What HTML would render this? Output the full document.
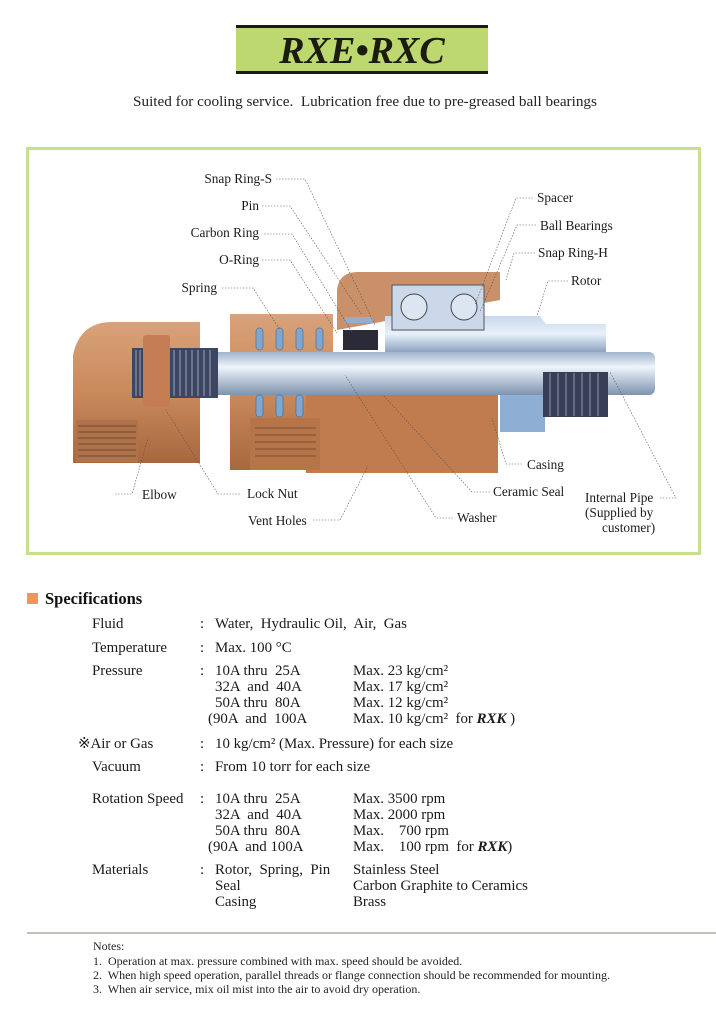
<!DOCTYPE html>
<html><head><meta charset="utf-8"><style>
html,body{margin:0;padding:0;background:#fff;}
svg{display:block;font-family:"Liberation Serif",serif;}
text{white-space:pre;}
</style></head><body>
<svg width="716" height="1023" viewBox="0 0 716 1023" xmlns="http://www.w3.org/2000/svg" xml:space="preserve">
<defs>
<linearGradient id="pipe" x1="0" y1="0" x2="0" y2="1"><stop offset="0" stop-color="#9fb4cc"/><stop offset="0.35" stop-color="#eef4fb"/><stop offset="1" stop-color="#7e93ad"/></linearGradient>
<linearGradient id="brass" x1="0" y1="0" x2="0" y2="1"><stop offset="0" stop-color="#d9a27a"/><stop offset="0.5" stop-color="#c98a5c"/><stop offset="1" stop-color="#a8673e"/></linearGradient>
<linearGradient id="rotor" x1="0" y1="0" x2="0" y2="1"><stop offset="0" stop-color="#c8d8ec"/><stop offset="0.5" stop-color="#e8f0fa"/><stop offset="1" stop-color="#8ea4c0"/></linearGradient>
</defs>
<rect width="716" height="1023" fill="#fff"/>
<rect x="236" y="26" width="252" height="47" fill="#bcd86e"/>
<rect x="236" y="25" width="252" height="3" fill="#1a1a1a"/>
<rect x="236" y="71" width="252" height="3" fill="#1a1a1a"/>
<text x="362" y="63" text-anchor="middle" font-size="38" font-weight="bold" font-style="italic" fill="#1b1b10">RXE•RXC</text>
<text x="365" y="106" text-anchor="middle" font-size="15.2" fill="#222">Suited for cooling service.  Lubrication free due to pre-greased ball bearings</text>
<rect x="27.5" y="148.5" width="672" height="405" fill="#fff" stroke="#c8e08c" stroke-width="3"/>
<path d="M73 355 Q80 322 112 322 L200 322 L200 463 L73 463 Z" fill="url(#brass)"/>
<rect x="76" y="420" width="62" height="42" fill="#b07248"/>
<g stroke="#6d4a32" stroke-width="1"><line x1="78" y1="426" x2="136" y2="426"/><line x1="78" y1="432" x2="136" y2="432"/><line x1="78" y1="438" x2="136" y2="438"/><line x1="78" y1="444" x2="136" y2="444"/><line x1="78" y1="450" x2="136" y2="450"/><line x1="78" y1="456" x2="136" y2="456"/></g>
<rect x="230" y="314" width="103" height="156" fill="url(#brass)"/>
<path d="M337 290 Q339 272 358 272 L500 272 L500 300 L337 330 Z" fill="#c99069"/>
<rect x="306" y="375" width="192" height="98" fill="#c07c4f"/>
<rect x="250" y="418" width="70" height="52" fill="#b67548"/>
<g stroke="#7a5036" stroke-width="1"><line x1="255" y1="428" x2="316" y2="428"/><line x1="255" y1="435" x2="316" y2="435"/><line x1="255" y1="442" x2="316" y2="442"/><line x1="255" y1="449" x2="316" y2="449"/><line x1="255" y1="456" x2="316" y2="456"/></g>
<path d="M385 316 L540 316 L546 324 L606 324 L606 352 L385 352 Z" fill="url(#rotor)"/>
<rect x="500" y="390" width="45" height="42" fill="#8eaed4"/>
<rect x="163" y="352" width="492" height="43" fill="url(#pipe)" rx="6"/>
<rect x="132" y="348" width="86" height="50" fill="#3d4660"/>
<rect x="143" y="335" width="27" height="72" fill="#c47c52" rx="3"/>
<g stroke="#8a94b0" stroke-width="1.2"><line x1="174" y1="350" x2="174" y2="396"/><line x1="180" y1="350" x2="180" y2="396"/><line x1="186" y1="350" x2="186" y2="396"/><line x1="192" y1="350" x2="192" y2="396"/><line x1="198" y1="350" x2="198" y2="396"/><line x1="204" y1="350" x2="204" y2="396"/><line x1="210" y1="350" x2="210" y2="396"/><line x1="136" y1="350" x2="136" y2="396"/><line x1="140" y1="350" x2="140" y2="396"/></g>
<rect x="543" y="372" width="65" height="45" fill="#383e55"/>
<g stroke="#7d88a8" stroke-width="1.2"><line x1="550" y1="373" x2="550" y2="416"/><line x1="558" y1="373" x2="558" y2="416"/><line x1="566" y1="373" x2="566" y2="416"/><line x1="574" y1="373" x2="574" y2="416"/><line x1="582" y1="373" x2="582" y2="416"/><line x1="590" y1="373" x2="590" y2="416"/><line x1="598" y1="373" x2="598" y2="416"/></g>
<rect x="343" y="330" width="35" height="20" fill="#2a2a38"/>
<rect x="345" y="317" width="28" height="6" fill="#9aaccc"/>
<rect x="392" y="285" width="92" height="45" fill="#cbd8ea" stroke="#555" stroke-width="1"/>
<circle cx="414" cy="307" r="13" fill="#dce6f3" stroke="#444"/><circle cx="464" cy="307" r="13" fill="#dce6f3" stroke="#444"/>
<g fill="#7ea6d0" stroke="#456" stroke-width="0.5"><rect x="256" y="328" width="7" height="22" rx="3"/><rect x="276" y="328" width="7" height="22" rx="3"/><rect x="296" y="328" width="7" height="22" rx="3"/><rect x="316" y="328" width="7" height="22" rx="3"/><rect x="256" y="395" width="7" height="22" rx="3"/><rect x="276" y="395" width="7" height="22" rx="3"/><rect x="296" y="395" width="7" height="22" rx="3"/></g>
<g stroke="#555" stroke-width="0.6" stroke-dasharray="1.5,1.5" fill="none">
<path d="M276 179 L305 179 L375 325"/>
<path d="M262 206 L290 206 L362 315"/>
<path d="M264 234 L292 234 L352 332"/>
<path d="M262 260 L290 260 L337 333"/>
<path d="M222 288 L253 288 L280 330"/>
<path d="M533 198 L516 198 L475 305"/>
<path d="M536 225 L517 225 L480 312"/>
<path d="M535 253 L514 253 L506 280"/>
<path d="M568 281 L548 281 L537 316"/>
<path d="M115 494 L132 494 L148 438"/>
<path d="M240 494 L218 494 L166 410"/>
<path d="M313 520 L340 520 L368 466"/>
<path d="M453 518 L436 518 L345 375"/>
<path d="M490 492 L472 492 L383 395"/>
<path d="M522 464 L506 464 L492 418"/>
<path d="M660 498 L676 498 L610 372"/>
</g>
<g font-size="13.3" fill="#1a1a1a">
<text x="272" y="183" text-anchor="end">Snap Ring-S</text>
<text x="259" y="210" text-anchor="end">Pin</text>
<text x="259" y="237" text-anchor="end">Carbon Ring</text>
<text x="259" y="264" text-anchor="end">O-Ring</text>
<text x="217" y="292" text-anchor="end">Spring</text>
<text x="537" y="202">Spacer</text>
<text x="540" y="230">Ball Bearings</text>
<text x="538" y="257">Snap Ring-H</text>
<text x="571" y="285">Rotor</text>
<text x="142" y="499">Elbow</text>
<text x="247" y="498">Lock Nut</text>
<text x="248" y="525">Vent Holes</text>
<text x="457" y="522">Washer</text>
<text x="493" y="496">Ceramic Seal</text>
<text x="527" y="469">Casing</text>
<text x="585" y="502">Internal Pipe</text>
<text x="585" y="517">(Supplied by</text>
<text x="602" y="532">customer)</text>
</g>
<rect x="27" y="593" width="11" height="11" fill="#f0965a"/>
<text x="45" y="604" font-size="16.5" font-weight="bold" fill="#111">Specifications</text>
<g font-size="14.9" fill="#1a1a1a">
<text x="92" y="628">Fluid</text><text x="200" y="628">:</text><text x="215" y="628">Water,  Hydraulic Oil,  Air,  Gas</text>
<text x="92" y="652">Temperature</text><text x="200" y="652">:</text><text x="215" y="652">Max. 100 °C</text>
<text x="92" y="675">Pressure</text><text x="200" y="675">:</text>
<text x="215" y="675">10A thru  25A</text><text x="353" y="675">Max. 23 kg/cm²</text>
<text x="215" y="691">32A  and  40A</text><text x="353" y="691">Max. 17 kg/cm²</text>
<text x="215" y="707">50A thru  80A</text><text x="353" y="707">Max. 12 kg/cm²</text>
<text x="208" y="723">(90A  and  100A</text><text x="353" y="723">Max. 10 kg/cm²  for <tspan font-weight="bold" font-style="italic">RXK</tspan> )</text>
<text x="78" y="748">※Air or Gas</text><text x="200" y="748">:</text><text x="215" y="748">10 kg/cm² (Max. Pressure) for each size</text>
<text x="92" y="771">Vacuum</text><text x="200" y="771">:</text><text x="215" y="771">From 10 torr for each size</text>
<text x="92" y="803">Rotation Speed</text><text x="200" y="803">:</text>
<text x="215" y="803">10A thru  25A</text><text x="353" y="803">Max. 3500 rpm</text>
<text x="215" y="819">32A  and  40A</text><text x="353" y="819">Max. 2000 rpm</text>
<text x="215" y="835">50A thru  80A</text><text x="353" y="835">Max.    700 rpm</text>
<text x="208" y="851">(90A  and 100A</text><text x="353" y="851">Max.    100 rpm  for <tspan font-weight="bold" font-style="italic">RXK</tspan>)</text>
<text x="92" y="874">Materials</text><text x="200" y="874">:</text>
<text x="215" y="874">Rotor,  Spring,  Pin</text><text x="353" y="874">Stainless Steel</text>
<text x="215" y="890">Seal</text><text x="353" y="890">Carbon Graphite to Ceramics</text>
<text x="215" y="906">Casing</text><text x="353" y="906">Brass</text>
</g>
<line x1="27" y1="933" x2="716" y2="933" stroke="#7a8a6a" stroke-width="1"/>
<g font-size="12" fill="#222">
<text x="93" y="950">Notes:</text>
<text x="93" y="965">1.  Operation at max. pressure combined with max. speed should be avoided.</text>
<text x="93" y="979">2.  When high speed operation, parallel threads or flange connection should be recommended for mounting.</text>
<text x="93" y="993">3.  When air service, mix oil mist into the air to avoid dry operation.</text>
</g>
</svg>
</body></html>
